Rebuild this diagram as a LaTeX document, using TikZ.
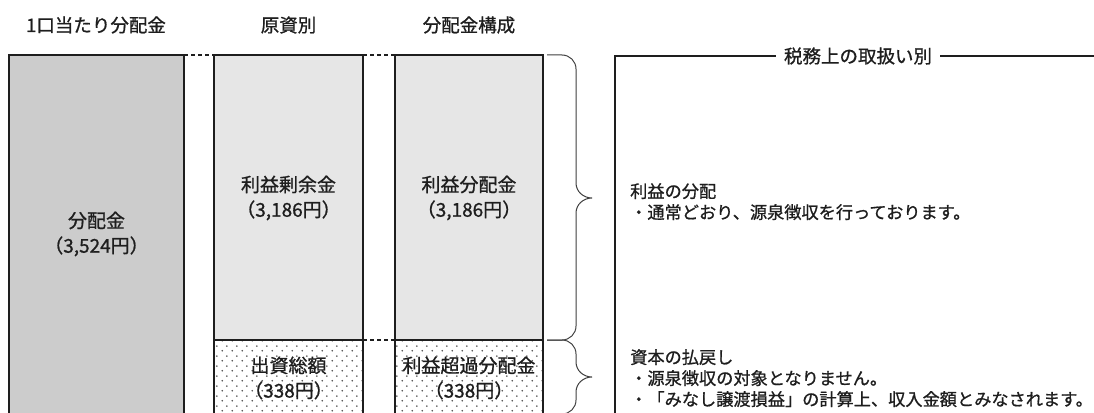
\documentclass[tikz,border=0pt]{standalone}
\usepackage{fontspec}
\setmainfont{Noto Sans CJK JP}[BoldFont={Noto Sans CJK JP},BoldFeatures={FakeBold=0.9}]
\usetikzlibrary{patterns.meta}
\tikzdeclarepattern{name=mydots, type=uncolored, bounding box={(0pt,0pt) and (10pt,10pt)}, tile size={(10pt,10pt)}, code={\fill (2.5pt,2.5pt) circle (0.95pt); \fill (7.5pt,7.5pt) circle (0.95pt);}}
\definecolor{darkfill}{HTML}{CCCCCC}
\definecolor{lightfill}{HTML}{E6E6E6}
\definecolor{ink}{HTML}{1E1E1E}
\begin{document}
\begin{tikzpicture}[x=1pt,y=-1pt,
  box/.style={draw=ink,line width=1.8pt,inner sep=0,outer sep=0,anchor=north west},
  lbl/.style={font=\fontsize{19}{25}\bfseries\selectfont,text=ink,align=center,inner sep=0},
  head/.style={font=\fontsize{18.5}{22}\bfseries\selectfont,text=ink,inner sep=0},
  note/.style={font=\fontsize{17.2}{21}\bfseries\selectfont,text=ink,align=left,inner sep=0,anchor=north west},
  dashline/.style={draw=ink,line width=1.8pt,dash pattern=on 4pt off 3pt},
  bracestyle/.style={draw=ink!85,line width=1pt}]
\useasboundingbox (0,0) rectangle (1094,412);
\clip (0,0) rectangle (1094,412);
\fill[white] (0,0) rectangle (1094,412);
% headers
\node[head] (h1) at (96,25) {1口当たり分配金};
\node[head] (h2) at (288.5,25) {原資別};
\node[head] (h3) at (469,25) {分配金構成};
% column 1
\node[box,fill=darkfill,minimum width=175pt,minimum height=380pt] (c1) at (9,55) {};
% column 2
\node[box,pattern={mydots},pattern color=black!70,minimum width=149pt,minimum height=90pt] (c2b) at (214,340) {};
\node[box,fill=lightfill,minimum width=149pt,minimum height=285pt] (c2a) at (214,55) {};
% column 3
\node[box,pattern={mydots},pattern color=black!70,minimum width=148pt,minimum height=90pt] (c3b) at (395,340) {};
\node[box,fill=lightfill,minimum width=148pt,minimum height=285pt] (c3a) at (395,55) {};
% dashed connectors
\draw[dashline] (c1.north east) -- (c2a.north west);
\draw[dashline] (c2a.north east) -- (c3a.north west);
\draw[dashline] (c2b.north east) -- (c3b.north west);
% box texts
\node[lbl] (t1) at (96.5,234) {分配金\\（3,524円）};
\node[lbl] (t2) at (288.5,198) {利益剰余金\\（3,186円）};
\node[lbl] (t3) at (469,198) {利益分配金\\（3,186円）};
\node[lbl] (t4) at (288.5,378) {出資総額\\（338円）};
\node[lbl] (t5) at (469,378) {利益超過分配金\\（338円）};
% braces
\draw[bracestyle] (547,55) -- (562,55) to[out=0,in=90] (576,69) -- (576,183)
  to[out=-90,in=180] (592,198) to[out=180,in=90] (576,213) -- (576,326)
  to[out=-90,in=0] (562,340) -- (547,340);
\draw[bracestyle] (547,340) -- (562,340) to[out=0,in=90] (576,354) -- (576,362)
  to[out=-90,in=180] (592,377) to[out=180,in=90] (576,392) -- (576,400)
  to[out=-90,in=0] (562,414) -- (547,414);
% right frame
\draw[draw=ink,line width=1.8pt] (1100,56) -- (615,56) -- (615,420);
\node[head,fill=white,inner xsep=8pt,inner ysep=2pt] (tax) at (858,56) {税務上の取扱い別};
% notes
\node[note] (n1) at (630,183) {利益の分配\\・通常どおり、源泉徴収を行っております。};
\node[note] (n2) at (630,349) {資本の払戻し\\・源泉徴収の対象となりません。\\・「みなし譲渡損益」の計算上、収入金額とみなされます。};
\end{tikzpicture}
\end{document}
